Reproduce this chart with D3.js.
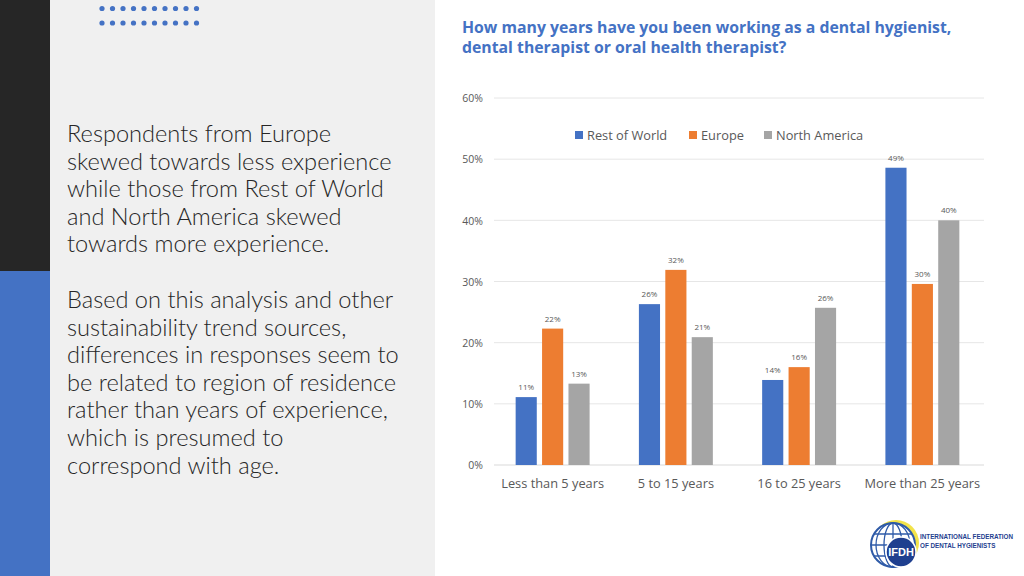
<!DOCTYPE html>
<html>
<head>
<meta charset="utf-8">
<script src="https://cdn.jsdelivr.net/npm/d3@7"></script>
<style>
  body { margin: 0; background: #fff; }
  svg { display: block; font-family: "Open Sans", Lato, sans-serif; }
</style>
</head>
<body>
<svg id="slide" width="1024" height="576"></svg>
<script>
// chart data
var categories = ["Less than 5 years", "5 to 15 years", "16 to 25 years", "More than 25 years"];
var seriesNames = ["Rest of World", "Europe", "North America"];
var restOfWorld = [11.1, 26.3, 13.9, 48.6];
var europe = [22.3, 31.9, 16.0, 29.6];
var northAmerica = [13.3, 20.9, 25.7, 40.0];
var yTicks = [0, 10, 20, 30, 40, 50, 60];
var colors = ["#4472C4", "#ED7D31", "#A5A5A5"];

var title = ["How many years have you been working as a dental hygienist,",
  "dental therapist or oral health therapist?"];
var para1 = ["Respondents from Europe", "skewed towards less experience",
  "while those from Rest of World", "and North America skewed", "towards more experience."];
var para2 = ["Based on this analysis and other", "sustainability trend sources,",
  "differences in responses seem to", "be related to region of residence",
  "rather than years of experience,", "which is presumed to", "correspond with age."];

var svg = d3.select("#slide");

// background panels
svg.append("rect").attr("x", 0).attr("y", 0).attr("width", 50).attr("height", 271).attr("fill", "#262626");
svg.append("rect").attr("x", 0).attr("y", 271).attr("width", 50).attr("height", 305).attr("fill", "#4472C4");
svg.append("rect").attr("x", 50).attr("y", 0).attr("width", 385).attr("height", 576).attr("fill", "#F0F0F0");

// dots
var dots = [];
for (var r = 0; r < 2; r++) for (var c = 0; c < 10; c++) dots.push({r: r, c: c});
svg.append("g").selectAll("circle").data(dots).join("circle")
  .attr("cx", d => 102 + d.c * 10.5)
  .attr("cy", d => 8.5 + d.r * 14.5)
  .attr("r", 2.6)
  .attr("fill", "#4472C4");

// left text
var leftText = svg.append("g").attr("fill", "#262626").attr("font-family", "Lato, 'Open Sans', sans-serif")
  .attr("font-size", 23.6).attr("font-weight", 300);
leftText.selectAll("text.p1").data(para1).join("text").attr("class", "p1")
  .attr("x", 67).attr("y", (d, i) => 142 + i * 27.6).text(d => d);
leftText.selectAll("text.p2").data(para2).join("text").attr("class", "p2")
  .attr("x", 67).attr("y", (d, i) => 308 + i * 27.6).text(d => d);

// title
svg.append("g").selectAll("text").data(title).join("text")
  .attr("x", 462).attr("y", (d, i) => 33 + i * 20)
  .attr("fill", "#4472C4").attr("font-size", 15.8).attr("font-weight", 700)
  .text(d => d);

// scales
var x0 = d3.scaleBand().domain(categories).range([491, 984]).paddingInner(0.4).paddingOuter(0.2);
var x1 = d3.scaleBand().domain(seriesNames).range([0, x0.bandwidth()]).paddingInner(0.2);
var y = d3.scaleLinear().domain([0, 60]).range([465, 98]);

// grid
var grid = svg.append("g");
grid.selectAll("line").data(yTicks).join("line")
  .attr("x1", 494).attr("x2", 984)
  .attr("y1", d => y(d)).attr("y2", d => y(d))
  .attr("stroke", d => d === 0 ? "#D9D9D9" : "#E6E6E6").attr("stroke-width", 1);

var yAxis = svg.append("g").attr("transform", "translate(483,0)")
  .call(d3.axisLeft(y).tickValues(yTicks).tickFormat(d => d + "%").tickSize(0));
yAxis.select(".domain").remove();
yAxis.selectAll("text").attr("fill", "#595959").attr("font-size", 10.5)
  .attr("font-family", "'Open Sans', sans-serif").attr("dy", "0.35em").attr("x", 0);

var xAxis = svg.append("g").attr("transform", "translate(0,465)")
  .call(d3.axisBottom(x0).tickSize(0));
xAxis.select(".domain").remove();
xAxis.selectAll("text").attr("fill", "#595959").attr("font-size", 12.8)
  .attr("font-family", "'Open Sans', sans-serif").attr("dy", "0").attr("y", 23);

// bars
var rows = categories.map((c, i) => ({
  cat: c,
  vals: [restOfWorld[i], europe[i], northAmerica[i]].map((v, j) => ({name: seriesNames[j], v: v, color: colors[j]}))
}));

var groups = svg.append("g").selectAll("g").data(rows).join("g")
  .attr("transform", d => "translate(" + x0(d.cat) + ",0)");
groups.selectAll("rect").data(d => d.vals).join("rect")
  .attr("x", d => x1(d.name)).attr("width", x1.bandwidth())
  .attr("y", d => y(d.v)).attr("height", d => y(0) - y(d.v))
  .attr("fill", d => d.color);
groups.selectAll("text").data(d => d.vals).join("text")
  .attr("x", d => x1(d.name) + x1.bandwidth() / 2)
  .attr("y", d => y(d.v) - 7)
  .attr("text-anchor", "middle").attr("fill", "#595959").attr("font-size", 8)
  .text(d => Math.round(d.v) + "%");

// legend
var legendX = [575, 689, 764];
var legend = svg.append("g").selectAll("g").data(seriesNames).join("g")
  .attr("transform", (d, i) => "translate(" + legendX[i] + ",131)");
legend.append("rect").attr("width", 8).attr("height", 8).attr("fill", (d, i) => colors[i]);
legend.append("text").attr("x", 12).attr("y", 8.5).attr("fill", "#595959").attr("font-size", 12.8).text(d => d);

// logo
var logo = svg.append("g").attr("transform", "translate(893,545)");
logo.append("circle").attr("cx", 3).attr("cy", -2).attr("r", 23).attr("fill", "#F2E34A");
logo.append("circle").attr("r", 22).attr("fill", "#fff").attr("stroke", "#2F5BA8").attr("stroke-width", 2);
var globe = logo.append("g").attr("stroke", "#2F5BA8").attr("stroke-width", 1.3).attr("fill", "none");
globe.append("ellipse").attr("rx", 9).attr("ry", 22);
globe.append("ellipse").attr("rx", 17).attr("ry", 22);
globe.append("line").attr("x1", 0).attr("x2", 0).attr("y1", -22).attr("y2", 22);
globe.append("line").attr("x1", -22).attr("x2", 22).attr("y1", 0).attr("y2", 0);
globe.append("line").attr("x1", -19).attr("x2", 19).attr("y1", -11).attr("y2", -11);
globe.append("line").attr("x1", -19).attr("x2", 19).attr("y1", 11).attr("y2", 11);
logo.append("circle").attr("cx", 8).attr("cy", 7).attr("r", 15).attr("fill", "#1F3F8F").attr("stroke", "#fff").attr("stroke-width", 1.5);
logo.append("text").attr("x", 8).attr("y", 11).attr("text-anchor", "middle").attr("fill", "#fff")
  .attr("font-size", 11).attr("font-weight", 700).attr("font-family", "'Liberation Sans', Arial, sans-serif").text("IFDH");
var logoText = svg.append("g").attr("fill", "#1F3F8F").attr("font-family", "'Liberation Sans', Arial, sans-serif").attr("font-weight", 700);
logoText.append("text").attr("x", 920).attr("y", 539).attr("font-size", 6.3).text("INTERNATIONAL FEDERATION");
logoText.append("text").attr("x", 920).attr("y", 548).attr("font-size", 6.3).text("OF DENTAL HYGIENISTS");
</script>
</body>
</html>
